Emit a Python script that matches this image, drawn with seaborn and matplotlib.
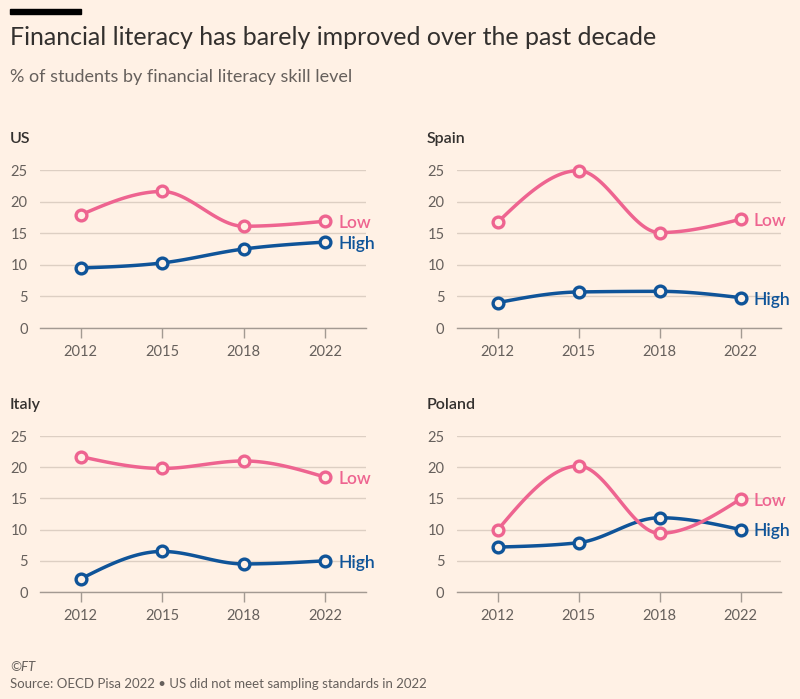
import numpy as np
import pandas as pd
import matplotlib
import matplotlib.pyplot as plt
import seaborn as sns
from matplotlib.patches import Rectangle

# ── data ──────────────────────────────────────────────────────────────────────
YEARS = ["2012", "2015", "2018", "2022"]
COUNTRIES = ["US", "Spain", "Italy", "Poland"]

us_low = [17.9, 21.6, 16.1, 16.9]
us_high = [9.5, 10.3, 12.5, 13.6]
spain_low = [16.7, 24.9, 15.1, 17.2]
spain_high = [4.0, 5.7, 5.8, 4.8]
italy_low = [21.7, 19.8, 21.0, 18.4]
italy_high = [2.1, 6.5, 4.5, 5.0]
poland_low = [9.9, 20.2, 9.4, 14.9]
poland_high = [7.2, 7.9, 11.9, 10.0]

SERIES = {
    "US": (us_low, us_high),
    "Spain": (spain_low, spain_high),
    "Italy": (italy_low, italy_high),
    "Poland": (poland_low, poland_high),
}

# ── style ─────────────────────────────────────────────────────────────────────
BG = "#FFF1E5"
PINK = "#EE6490"
BLUE = "#0F5499"
GRID = "#DDCFC3"
BASE = "#A39A92"
TXT = "#33302E"
SUB = "#66605C"

sns.set_theme(style="white")
plt.rcParams["font.family"] = ["Lato", "DejaVu Sans"]
plt.rcParams["figure.facecolor"] = BG
plt.rcParams["axes.facecolor"] = BG


def monotone_curve(y, n=40):
    # monotone cubic (d3 curveMonotoneX style) through points at x = 0..len-1
    y = np.asarray(y, dtype=float)
    k = len(y)
    d = np.diff(y)
    t = np.zeros(k)
    for i in range(1, k - 1):
        s0, s1 = d[i - 1], d[i]
        p = (s0 + s1) / 2
        t[i] = (np.sign(s0) + np.sign(s1)) * min(abs(s0), abs(s1), 0.5 * abs(p)) or 0.0
    t[0] = (3 * d[0] - t[1]) / 2
    t[-1] = (3 * d[-1] - t[-2]) / 2
    xs, ys = [], []
    for i in range(k - 1):
        u = np.linspace(0, 1, n)
        h00 = 2 * u**3 - 3 * u**2 + 1
        h10 = u**3 - 2 * u**2 + u
        h01 = -2 * u**3 + 3 * u**2
        h11 = u**3 - u**2
        xs.append(i + u)
        ys.append(h00 * y[i] + h10 * t[i] + h01 * y[i + 1] + h11 * t[i + 1])
    return np.concatenate(xs), np.concatenate(ys)


fig = plt.figure(figsize=(8, 6.99), dpi=100)

# axes boxes in pixels: left, right, top(25 line), bottom(0 line)
BOXES = {
    "US": (40, 366, 170, 328),
    "Spain": (457, 781, 170, 328),
    "Italy": (40, 366, 436, 592),
    "Poland": (457, 781, 436, 592),
}
W, H = 800, 699

for country in COUNTRIES:
    l, r, top, bot = BOXES[country]
    ax = fig.add_axes([l / W, 1 - bot / H, (r - l) / W, (bot - top) / H])
    low, high = SERIES[country]
    df = pd.DataFrame({"pos": range(len(YEARS)), "Low": low, "High": high})

    for col, color in [("High", BLUE), ("Low", PINK)]:
        cx, cy = monotone_curve(df[col].values)
        sns.lineplot(x=cx, y=cy, ax=ax, color=color, linewidth=2.5,
                     sort=False, estimator=None, zorder=3)
        ax.lines[-1].set_clip_on(False)
        sns.scatterplot(data=df, x="pos", y=col, ax=ax, s=60, color=BG,
                        edgecolor=color, linewidth=2.4, zorder=4, clip_on=False)
        ax.text(len(YEARS) - 1 + 0.16, df[col].iloc[-1] - 0.3, col, color=color,
                fontsize=12.5, fontweight="semibold", va="center", ha="left")

    ax.set_xlim(-0.5, 3.5)
    ax.set_ylim(0, 25)
    ax.set_xticks(range(len(YEARS)))
    ax.set_xticklabels(YEARS)
    ax.set_yticks([0, 5, 10, 15, 20, 25])
    ax.set_xlabel("")
    ax.set_ylabel("")
    ax.grid(axis="y", color=GRID, linewidth=1)
    ax.set_axisbelow(True)
    for s in ["top", "right", "left"]:
        ax.spines[s].set_visible(False)
    ax.spines["bottom"].set_color(BASE)
    ax.spines["bottom"].set_linewidth(1)
    ax.spines["bottom"].set_zorder(2)
    ax.tick_params(axis="x", length=7, width=1, color=BASE, pad=5,
                   labelsize=10.5, labelcolor=SUB, bottom=True)
    ax.tick_params(axis="y", length=0, pad=9, labelsize=10.5, labelcolor=SUB)

    ax.text(l / W - 30 / W, 1 - (top - 27) / H, country, transform=fig.transFigure,
            fontsize=11.5, fontweight="semibold", color=TXT, ha="left", va="baseline")

# ── header / footer ───────────────────────────────────────────────────────────
fig.add_artist(Rectangle((10 / W, 1 - 14 / H), 71 / W, 5 / H,
                         transform=fig.transFigure, color="black"))
fig.text(10 / W, 1 - 45 / H, "Financial literacy has barely improved over the past decade",
         fontsize=18, color=TXT, ha="left", va="baseline")
fig.text(10 / W, 1 - 82 / H, "% of students by financial literacy skill level",
         fontsize=13, color=SUB, ha="left", va="baseline")
fig.text(10 / W, 1 - 671 / H, "©FT", fontsize=9.5, style="italic", color=SUB,
         ha="left", va="baseline")
fig.text(10 / W, 1 - 688 / H, "Source: OECD Pisa 2022 • US did not meet sampling standards in 2022",
         fontsize=9.5, color=SUB, ha="left", va="baseline")

fig.savefig("out.png", dpi=100, facecolor=BG)
